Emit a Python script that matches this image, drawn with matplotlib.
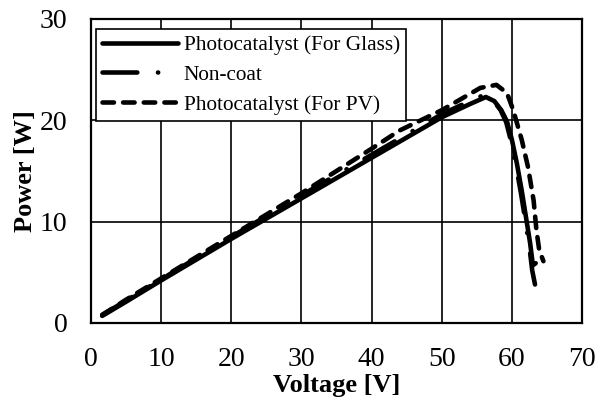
import matplotlib
matplotlib.use("Agg")
import matplotlib.pyplot as plt

# Data
V_glass = [1.6, 5, 10, 20, 30, 40, 50, 54, 56.3, 57.5, 58.5, 59.3, 60.0, 60.7, 61.4, 62.0, 62.6, 63.0, 63.4]
P_glass = [0.7, 2.1, 4.2, 8.3, 12.3, 16.3, 20.3, 21.6, 22.3, 21.9, 21.0, 19.9, 18.1, 15.8, 13.1, 10.5, 7.9, 5.7, 5.9]

V_nc = [1.6, 5, 10, 20, 30, 40, 50, 54, 56.0, 57.3, 58.4, 59.2, 59.9, 60.6, 61.3, 61.9, 62.5, 62.9, 63.3]
P_nc = [0.8, 2.2, 4.3, 8.5, 12.6, 16.6, 20.6, 21.9, 22.5, 22.0, 21.0, 19.8, 17.9, 15.5, 12.8, 10.2, 7.5, 5.2, 3.8]

V_pv = [1.6, 5, 10, 20, 30, 40, 44, 50, 55.5, 57.8, 59.3, 60.2, 61.4, 62.3, 63.1, 63.5, 63.9, 64.5]
P_pv = [0.8, 2.3, 4.4, 8.6, 12.8, 17.2, 19.0, 21.0, 23.2, 23.5, 22.7, 21.0, 18.1, 15.4, 12.1, 9.2, 7.2, 6.1]

labels = ["Photocatalyst (For Glass)", "Non-coat", "Photocatalyst (For PV)"]
x_ticks = [0, 10, 20, 30, 40, 50, 60, 70]
y_ticks = [0, 10, 20, 30]

plt.rcParams['font.family'] = ['Liberation Serif', 'DejaVu Serif']

fig = plt.figure(figsize=(6.08, 4.01), dpi=100)
ax = fig.add_axes([91/608, 1-323/401, (582-91)/608, (323-19)/401])

lw = 3.3
ax.plot(V_glass, P_glass, color='black', lw=lw, solid_capstyle='round',
        solid_joinstyle='round', label=labels[0], zorder=3)
l2, = ax.plot(V_nc, P_nc, color='black', lw=lw, label=labels[1], zorder=3,
              dash_capstyle='round')
l2.set_dashes([7.6, 4.5, 0.05, 4.5])
l3, = ax.plot(V_pv, P_pv, color='black', lw=lw, label=labels[2], zorder=3,
              dash_capstyle='round')
l3.set_dashes([2.5, 2.0])

ax.set_xlim(0, 70)
ax.set_ylim(0, 30)
ax.set_xticks(x_ticks)
ax.set_yticks(y_ticks)
ax.tick_params(length=0, labelsize=20, pad=17)
ax.grid(True, color='black', lw=1.2)
ax.set_axisbelow(True)
for s in ax.spines.values():
    s.set_linewidth(1.6)
    s.set_color('black')

ax.set_xlabel("Voltage [V]", fontsize=19, fontweight='bold', labelpad=2)
ax.set_ylabel("Power [W]", fontsize=19, fontweight='bold', labelpad=2)

leg = ax.legend(loc='upper left', bbox_to_anchor=(0.01, 0.967), borderaxespad=0,
                fontsize=15.3, frameon=True, fancybox=False, framealpha=1,
                edgecolor='black', handlelength=3.55, handletextpad=0.28,
                labelspacing=0.46, borderpad=0.3)
leg.get_frame().set_linewidth(1.2)

fig.savefig("out.png", dpi=100)
